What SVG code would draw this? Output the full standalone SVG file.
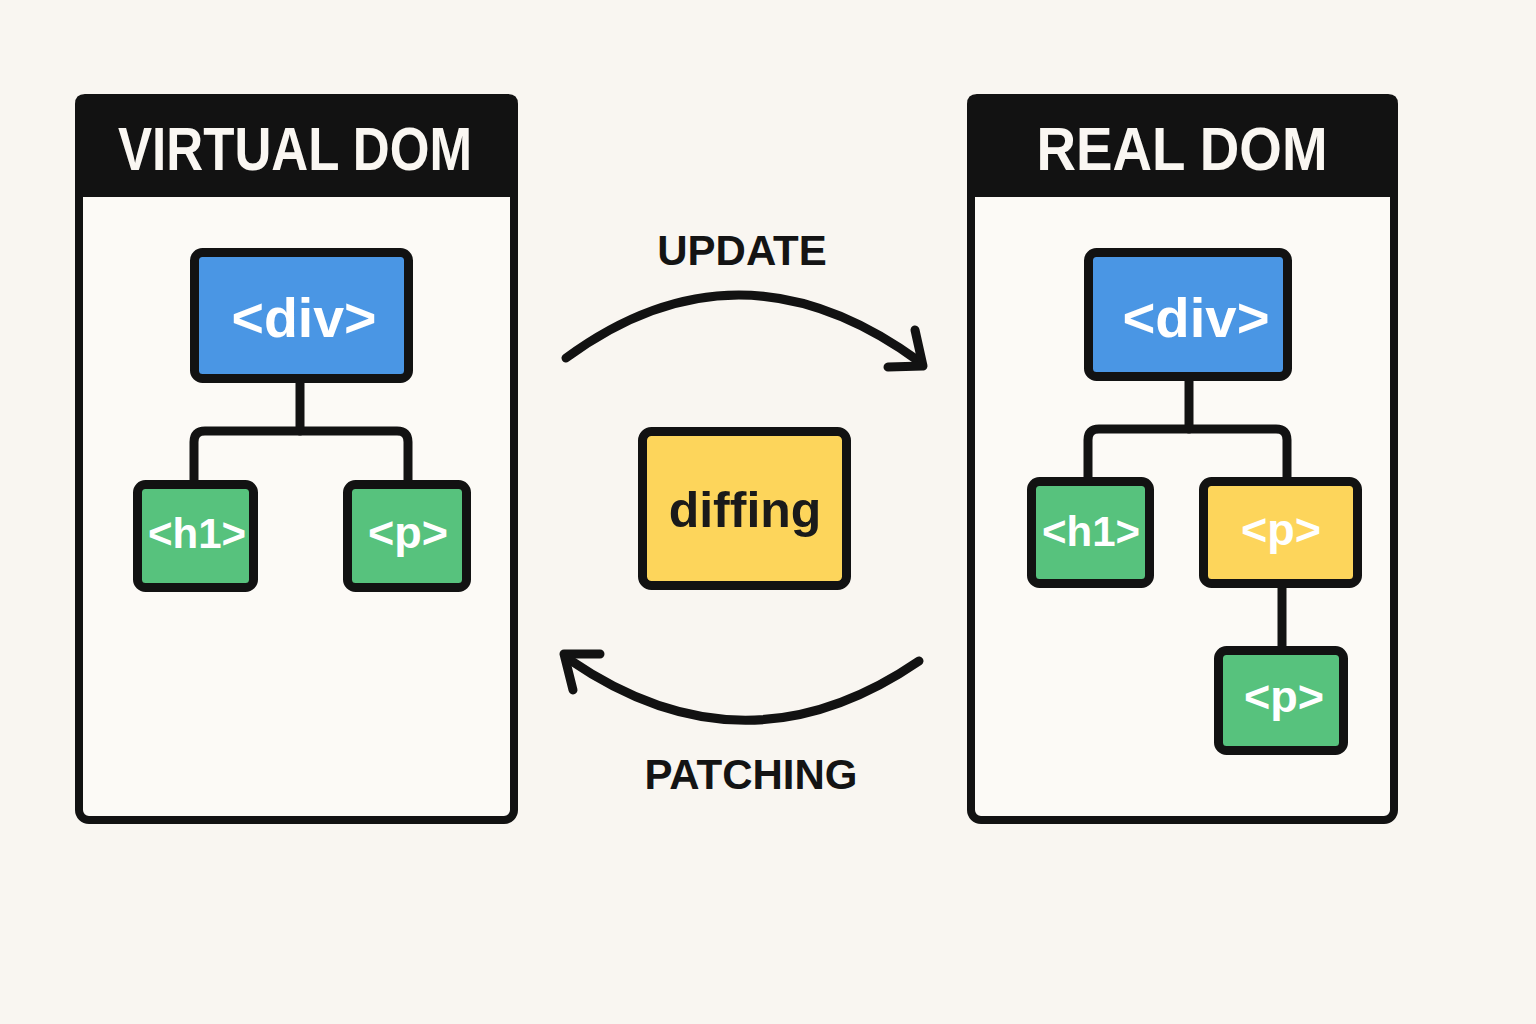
<svg xmlns="http://www.w3.org/2000/svg" width="1536" height="1024" viewBox="0 0 1536 1024">
<style>
.panel{fill:#FCFAF6;stroke:#121212;stroke-width:8}
.hdr{fill:#121212}
.htxt{font-family:"Liberation Sans",Arial,sans-serif;font-weight:bold;font-size:62px;fill:#FAF7F2;text-anchor:middle}
.node{stroke:#121212;stroke-width:9}
.blue{fill:#4A96E4}
.green{fill:#57C27D}
.yellow{fill:#FDD55B}
.ntxt{font-family:"Liberation Sans",Arial,sans-serif;font-weight:bold;fill:#FFFFFF;text-anchor:middle}
.lbl{font-family:"Liberation Sans",Arial,sans-serif;font-weight:bold;font-size:42px;fill:#141414;text-anchor:middle}
.conn{fill:none;stroke:#121212;stroke-width:9;stroke-linecap:round;stroke-linejoin:round}
</style>
<rect width="1536" height="1024" fill="#F9F6F1"/>

<g id="virtual-dom-panel">
<rect class="panel" x="79" y="98" width="435" height="722" rx="10"/>
<path class="hdr" d="M75,197 V104 Q75,94 85,94 H508 Q518,94 518,104 V197 Z"/>
<text class="htxt" x="295" y="170" textLength="354" lengthAdjust="spacingAndGlyphs">VIRTUAL DOM</text>
</g>

<g id="real-dom-panel">
<rect class="panel" x="971" y="98" width="423" height="722" rx="10"/>
<path class="hdr" d="M967,197 V104 Q967,94 977,94 H1388 Q1398,94 1398,104 V197 Z"/>
<text class="htxt" x="1182" y="170" textLength="291" lengthAdjust="spacingAndGlyphs">REAL DOM</text>
</g>

<g id="connectors">
<path class="conn" d="M300,383 V431"/>
<path class="conn" d="M194,480 V442 Q194,431 205,431 H397 Q408,431 408,442 V480"/>
<path class="conn" d="M1189,380 V429"/>
<path class="conn" d="M1088,477 V440 Q1088,429 1099,429 H1276 Q1287,429 1287,440 V477"/>
<path class="conn" d="M1282,588 V647"/>
<path class="conn" d="M566,358 Q740,230 920,362"/>
<path class="conn" d="M915,330 L923,366 L888,367"/>
<path class="conn" d="M919,661 Q745,780 570,660"/>
<path class="conn" d="M600,654 L564,654 L573,690"/>
</g>

<g id="v-div">
<rect class="node blue" x="194.5" y="252.5" width="214" height="126" rx="8"/>
<text class="ntxt" x="304" y="337" font-size="56" textLength="145" lengthAdjust="spacingAndGlyphs">&lt;div&gt;</text>
</g>
<g id="v-h1">
<rect class="node green" x="137.5" y="484.5" width="116" height="103" rx="8"/>
<text class="ntxt" x="197" y="548" font-size="42">&lt;h1&gt;</text>
</g>
<g id="v-p">
<rect class="node green" x="347.5" y="484.5" width="119" height="103" rx="8"/>
<text class="ntxt" x="408" y="548" font-size="45">&lt;p&gt;</text>
</g>

<g id="diffing">
<rect class="node yellow" x="642.5" y="431.5" width="204" height="154" rx="9"/>
<text x="745" y="527" font-family="Liberation Sans, Arial, sans-serif" font-weight="bold" font-size="50" fill="#1A1A1A" text-anchor="middle">diffing</text>
</g>

<g id="update-label"><text class="lbl" x="742" y="265">UPDATE</text></g>
<g id="patching-label"><text class="lbl" x="751" y="789">PATCHING</text></g>

<g id="r-div">
<rect class="node blue" x="1088.5" y="252.5" width="199" height="124" rx="8"/>
<text class="ntxt" x="1196" y="337" font-size="56" textLength="147" lengthAdjust="spacingAndGlyphs">&lt;div&gt;</text>
</g>
<g id="r-h1">
<rect class="node green" x="1031.5" y="481.5" width="118" height="102" rx="8"/>
<text class="ntxt" x="1091" y="546" font-size="42">&lt;h1&gt;</text>
</g>
<g id="r-p-changed">
<rect class="node yellow" x="1203.5" y="481.5" width="154" height="102" rx="8"/>
<text class="ntxt" x="1281" y="545" font-size="45">&lt;p&gt;</text>
</g>
<g id="r-p-new">
<rect class="node green" x="1218.5" y="650.5" width="125" height="100" rx="8"/>
<text class="ntxt" x="1284" y="712" font-size="45">&lt;p&gt;</text>
</g>
</svg>
